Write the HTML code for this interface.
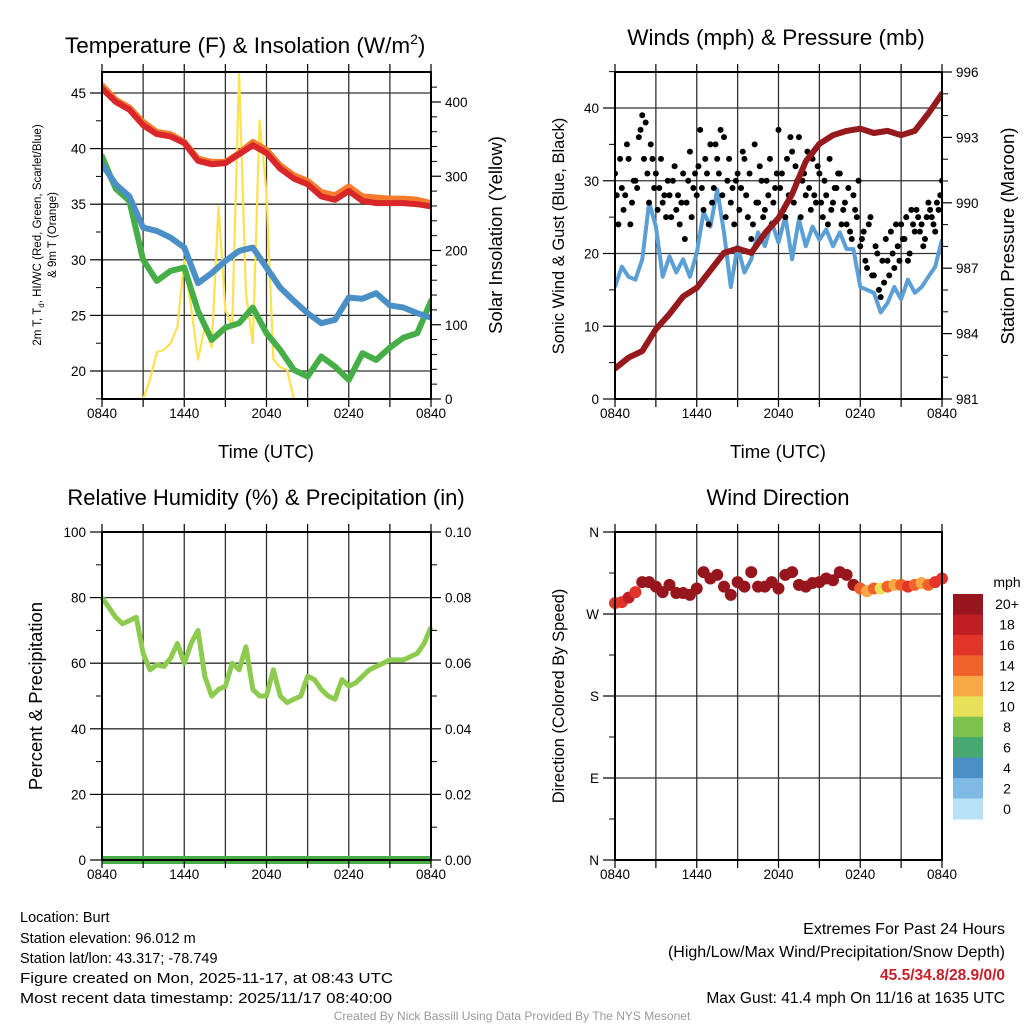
<!DOCTYPE html>
<html><head><meta charset="utf-8"><style>
body{margin:0;background:#fff;}
svg{display:block;font-family:"Liberation Sans",Arial,sans-serif;}
</style></head><body>
<svg id="root" width="1024" height="1024" viewBox="0 0 1024 1024" xmlns="http://www.w3.org/2000/svg">
<rect width="1024" height="1024" fill="#fff"/>
<g id="layer"></g>
<g font-size="14.5" fill="#000">
<text x="20" y="922">Location: Burt</text>
<text x="20" y="943">Station elevation: 96.012 m</text>
<text x="20" y="963">Station lat/lon: 43.317; -78.749</text>
<text x="20" y="983" textLength="373" lengthAdjust="spacingAndGlyphs">Figure created on Mon, 2025-11-17, at 08:43 UTC</text>
<text x="20" y="1003" textLength="372" lengthAdjust="spacingAndGlyphs">Most recent data timestamp: 2025/11/17 08:40:00</text>
<text x="1005" y="934" font-size="16" text-anchor="end">Extremes For Past 24 Hours</text>
<text x="1005" y="957" font-size="16" text-anchor="end">(High/Low/Max Wind/Precipitation/Snow Depth)</text>
<text x="1005" y="980" font-size="15.5" font-weight="bold" fill="#c8202a" text-anchor="end">45.5/34.8/28.9/0/0</text>
<text x="1005" y="1003" font-size="15.5" text-anchor="end">Max Gust: 41.4 mph On 11/16 at 1635 UTC</text>
<text x="512" y="1020" font-size="12" fill="#999" text-anchor="middle">Created By Nick Bassill Using Data Provided By The NYS Mesonet</text>
</g>
</svg>
<script>
// ---------- data ----------
const xTickLabels = ["0840","1440","2040","0240","0840"];
const tempTicks = [20,25,30,35,40,45];
const solarTicks = [0,100,200,300,400];
const windTicks = [0,10,20,30,40];
const presTicks = [981,984,987,990,993,996];
const rhTicks = [0,20,40,60,80,100];
const precipTicks = ["0.00","0.02","0.04","0.06","0.08","0.10"];
const dirTicks = ["N","E","S","W","N"];
const speedBins = ["0","2","4","6","8","10","12","14","16","18","20+"];

// hourly temps (F), hour 0..24
const tempRed = [45.4,44.2,43.5,42.1,41.3,41.1,40.5,38.9,38.6,38.7,39.5,40.3,39.6,38.2,37.3,36.8,35.7,35.4,36.2,35.3,35.1,35.1,35.1,35.0,34.8];
const temp9m = [45.7,44.4,43.7,42.4,41.5,41.3,40.6,39.1,38.8,38.8,39.6,40.6,39.9,38.5,37.6,37.1,36.1,35.8,36.6,35.7,35.6,35.5,35.5,35.4,35.1];
const dewBlue = [38.6,36.8,35.7,32.9,32.6,32.0,31.1,27.9,28.8,29.9,30.8,31.1,29.3,27.5,26.3,25.2,24.3,24.6,26.6,26.5,27.0,25.9,25.7,25.2,24.8];
const hiwcGreen = [39.3,36.4,35.3,30.0,28.1,29.0,29.3,25.4,22.8,23.9,24.3,25.7,23.4,21.9,20.1,19.5,21.3,20.4,19.2,21.6,21.0,22.1,23.0,23.4,26.3];
// half-hourly insolation W/m2
const solar = [0,0,0,0,0,0,0,26,63,66,75,97,187,124,53,97,70,259,120,97,440,143,75,375,277,53,43,39,0,0,0,0,0,0,0,0,0,0,0,0,0,0,0,0,0,0,0,0,0];
// half-hourly wind (mph)
const windSpeed = [15.4,18.2,16.8,16.4,19.2,27,23.7,16.8,19.6,17.4,19.2,16.8,20.1,25.7,23.7,28.8,22.9,15.4,21,17.4,19.2,22.9,21,24.3,21.5,25.1,19.2,24.7,21,23.7,21.9,23.3,21,22.9,20.6,20.6,15.4,15,14.6,11.9,13.2,15.4,13.7,16.4,14.6,15.4,16.8,18.2,21.9];
// gusts every 15 min and offset series
const gustA = [31,24,29,28,33,27,30,36,39,38,27,33,31,29,27,25,28,30,26,24,31,27,34,29,28,37,26,31,35,29,33,37,36,30,27,24,31,29,33,25,22,35,27,30,26,28,24,29,37,31,25,28,34,32,36,30,28,29,33,27,31,25,28,33,27,29,31,26,24,23,28,25,21,23,18,25,17,20,14,16,19,23,18,21,24,22,19,26,23,25,24,22,27,25,23,26,30];
const gustB = [28,33,26,35,24,30,29,37,33,31,35,29,26,33,28,30,25,32,28,27,22,30,25,31,32,29,33,24,27,35,31,28,25,33,29,30,26,34,28,31,24,27,32,25,30,33,27,31,29,26,33,36,27,30,25,31,34,26,28,32,27,30,24,26,29,31,24,27,29,22,26,30,22,19,24,17,21,15,19,22,17,20,24,19,22,25,20,24,26,23,21,25,26,24,27,28];
// hourly pressure (mb)
const pressure = [982.4,982.9,983.2,984.2,984.9,985.7,986.1,986.9,987.7,987.9,987.7,988.6,989.3,990.4,991.9,992.7,993.1,993.3,993.4,993.2,993.3,993.1,993.3,994.1,995.0];
// half-hourly RH (%)
const rh = [80,77,74,72,73,74,63,58,59.5,59,61.5,66,60,66,70,56,50,52,53,60,58,65,52,50,50,58,50,48,49,50,56,55,52,50,49,55,53,54,56,58,59,60,61,61,61,62,63,66,71];
const precip = [0,0,0,0,0,0,0,0,0,0,0,0,0,0,0,0,0,0,0,0,0,0,0,0,0];
// half-hourly wind direction (deg) and speed (mph)
const windDir = [282,283,288,294,305,305,300,294,302,293,293,291,298,316,309,313,300,291,305,300,316,300,300,305,298,313,316,302,300,304,305,309,307,316,313,302,298,295,298,298,300,302,302,300,302,304,302,305,309];
const dirSpeed = [16,17,18,16,20,21,22,20,21,20,22,20,21,22,23,22,21,20,21,22,23,21,20,21,22,21,23,22,21,20,22,21,23,22,21,20,14,13,15,10,14,13,15,16,14,13,15,16,17];

const binColors = ["#b7e2f6","#7fbae5","#4a8fc6","#48a871","#7cc24c","#e6e159","#f7a743","#f1622a","#e1352a","#bf1e24","#97161d"];

// ---------- helpers ----------
const NS="http://www.w3.org/2000/svg";
const layer=document.getElementById('layer');
function mk(tag,attrs,parent){const e=document.createElementNS(NS,tag);for(const k in attrs)e.setAttribute(k,attrs[k]);(parent||layer).appendChild(e);return e;}
function txt(s,attrs,parent){const e=mk('text',attrs,parent);e.textContent=s;return e;}
function lin(d0,d1,r0,r1){return v=>r0+(v-d0)*(r1-r0)/(d1-d0);}
function path(xs,ys,xf,yf){return xs.map((x,i)=>(i?'L':'M')+xf(x).toFixed(1)+','+yf(ys[i]).toFixed(1)).join(' ');}
function hours(n,step){return Array.from({length:n},(_,i)=>i*step);}

function frame(g,x0,x1,y0,y1,vlines,hlines){
  vlines.forEach(x=>{const l=mk('line',{x1:x,x2:x,y1:y0,y2:y1,stroke:'#333','stroke-width':1.3},g);});
  hlines.forEach(y=>{mk('line',{x1:x0,x2:x1,y1:y,y2:y,stroke:'#333','stroke-width':1.3},g);});
}
function border(g,x0,x1,y0,y1){mk('rect',{x:x0,y:y0,width:x1-x0,height:y1-y0,fill:'none',stroke:'#000','stroke-width':2},g);}
function xAxis(g,x0,x1,y0,y1,name){
  const xs=lin(0,24,x0,x1);
  for(let h=0;h<=24;h+=3){mk('line',{x1:xs(h),x2:xs(h),y1:y1,y2:y1+8,stroke:'#000','stroke-width':1.2},g);mk('line',{x1:xs(h),x2:xs(h),y1:y0,y2:y0-8,stroke:'#000','stroke-width':1.2},g);}
  xTickLabels.forEach((s,i)=>{const t=txt(s,{x:xs(i*6),y:y1+19,'font-size':13.5,'text-anchor':'middle'},g);
  
  });
  return xs;
}
function yTicksLeft(g,x0,vals,yf,labels,name,minor){
  vals.forEach((v,i)=>{mk('line',{x1:x0-12,x2:x0,y1:yf(v),y2:yf(v),stroke:'#000','stroke-width':1.2},g);
  const t=txt(labels?labels[i]:String(v),{x:x0-16,y:yf(v)+5,'font-size':13.5,'text-anchor':'end'},g);
  
  });
  (minor||[]).forEach(v=>mk('line',{x1:x0-6,x2:x0,y1:yf(v),y2:yf(v),stroke:'#000','stroke-width':1},g));
}
function yTicksRight(g,x1,vals,yf,labels,name,minor){
  vals.forEach((v,i)=>{mk('line',{x1:x1,x2:x1+10,y1:yf(v),y2:yf(v),stroke:'#000','stroke-width':1.2},g);
  const t=txt(labels?labels[i]:String(v),{x:x1+14,y:yf(v)+5,'font-size':13.5},g);
  
  });
  (minor||[]).forEach(v=>mk('line',{x1:x1,x2:x1+6,y1:yf(v),y2:yf(v),stroke:'#000','stroke-width':1},g));
}
function vgrid(x0,x1){const xs=lin(0,24,x0,x1);return hours(9,3).map(xs);}

// ---------- Panel 1 ----------
(function(){
const g=mk('g',{});


const X0=102,X1=431,Y0=72,Y1=399;
const yT=lin(20,45,371,93), yS=lin(0,400,399,102);
frame(g,X0,X1,Y0,Y1,vgrid(X0,X1),tempTicks.map(yT));
const xs=lin(0,24,X0,X1);
const clip=mk('clipPath',{id:'c1'},g);mk('rect',{x:X0,y:Y0,width:X1-X0,height:Y1-Y0},clip);
const pg=mk('g',{'clip-path':'url(#c1)'},g);
const sol=mk('path',{d:path(hours(49,0.5),solar,xs,yS),fill:'none',stroke:'#fde24f','stroke-width':2.2,'stroke-linejoin':'round'},pg);

const specs=[[hiwcGreen,'#45ae46','hiwc-line'],[dewBlue,'#4a8fc6','dewpoint-line'],[temp9m,'#f57c2c','temp-9m-line'],[tempRed,'#d8262a','temp-2m-line']];
specs.forEach(s=>{const p=mk('path',{d:path(hours(25,1),s[0],xs,yT),fill:'none',stroke:s[1],'stroke-width':6,'stroke-linejoin':'round','stroke-linecap':'round'},pg);
});
border(g,X0,X1,Y0,Y1);
xAxis(g,X0,X1,Y0,Y1,'temp');
yTicksLeft(g,X0,tempTicks,yT,null,'temp-y',[17.5,22.5,27.5,32.5,37.5,42.5]);
const minS=[];for(let v=20;v<440;v+=20)if(v%100)minS.push(v);
yTicksRight(g,X1,solarTicks,yS,null,'solar-y',minS);
const t=txt('Temperature (F) & Insolation (W/m',{x:65,y:53,'font-size':22.5},g);
const sup=mk('tspan',{'font-size':14,dy:-9},t);sup.textContent='2';
const cl=mk('tspan',{dy:9},t);cl.textContent=')';

const yl=mk('text',{transform:'translate(41,235) rotate(-90)','font-size':11.5,'text-anchor':'middle'},g);
yl.innerHTML='2m T, T<tspan font-size="8" dy="3">d</tspan><tspan dy="-3">, HI/WC (Red, Green, Scarlet/Blue)</tspan>';

const yl2=txt('& 9m T (Orange)',{transform:'translate(56,235) rotate(-90)','font-size':11.5,'text-anchor':'middle'},g);

const yr=txt('Solar Insolation (Yellow)',{transform:'translate(502,235) rotate(-90)','font-size':18.5,'text-anchor':'middle'},g);

const xt=txt('Time (UTC)',{x:266,y:458,'font-size':18.5,'text-anchor':'middle'},g);

})();

// ---------- Panel 2 ----------
(function(){
const g=mk('g',{});


const X0=615,X1=942,Y0=72,Y1=399;
const yW=lin(0,40,399,108), yP=lin(981,996,399,72);
frame(g,X0,X1,Y0,Y1,vgrid(X0,X1),windTicks.slice(1).map(yW));
const xs=lin(0,24,X0,X1);
const clip=mk('clipPath',{id:'c2'},g);mk('rect',{x:X0,y:Y0,width:X1-X0,height:Y1-Y0},clip);
const pg=mk('g',{'clip-path':'url(#c2)'},g);
const w=mk('path',{d:path(hours(49,0.5),windSpeed,xs,yW),fill:'none',stroke:'#5a9fd6','stroke-width':4,'stroke-linejoin':'round'},pg);

gustA.forEach((v,i)=>{const c=mk('circle',{cx:xs(i*0.25),cy:yW(v),r:3,fill:'#000'},pg);
});
gustB.forEach((v,i)=>{const c=mk('circle',{cx:xs(i*0.25+0.125),cy:yW(v),r:3,fill:'#000'},pg);
});
const p=mk('path',{d:path(hours(25,1),pressure,xs,yP),fill:'none',stroke:'#96191c','stroke-width':6,'stroke-linejoin':'round','stroke-linecap':'round'},pg);

border(g,X0,X1,Y0,Y1);
xAxis(g,X0,X1,Y0,Y1,'wind');
yTicksLeft(g,X0,windTicks,yW,null,'wind-y',[5,15,25,35,45]);
yTicksRight(g,X1,presTicks,yP,null,'pressure-y',[982,983,985,986,988,989,991,992,994,995]);
const t=txt('Winds (mph) & Pressure (mb)',{x:776,y:45,'font-size':22.5,'text-anchor':'middle'},g);

const yl=txt('Sonic Wind & Gust (Blue, Black)',{transform:'translate(564,236) rotate(-90)','font-size':16.5,'text-anchor':'middle'},g);

const yr=txt('Station Pressure (Maroon)',{transform:'translate(1014,236) rotate(-90)','font-size':18.5,'text-anchor':'middle'},g);

const xt=txt('Time (UTC)',{x:778,y:458,'font-size':18.5,'text-anchor':'middle'},g);

})();

// ---------- Panel 3 ----------
(function(){
const g=mk('g',{});


const X0=102,X1=431,Y0=532,Y1=860;
const yR=lin(0,100,860,532), yPr=lin(0,0.1,860,532);
frame(g,X0,X1,Y0,Y1,vgrid(X0,X1),[20,40,60,80].map(yR));
const xs=lin(0,24,X0,X1);
const r=mk('path',{d:path(hours(49,0.5),rh,xs,yR),fill:'none',stroke:'#8dcb4f','stroke-width':5,'stroke-linejoin':'round'},g);

const pp=mk('path',{d:path(hours(25,1),precip,xs,yPr),fill:'none',stroke:'#45ae46','stroke-width':8},g);

border(g,X0,X1,Y0,Y1);
xAxis(g,X0,X1,Y0,Y1,'rh');
yTicksLeft(g,X0,rhTicks,yR,null,'rh-y',[10,30,50,70,90]);
yTicksRight(g,X1,[0,0.02,0.04,0.06,0.08,0.1],yPr,precipTicks,'precip-y',[0.01,0.03,0.05,0.07,0.09]);
const t=txt('Relative Humidity (%) & Precipitation (in)',{x:266,y:505,'font-size':22,'text-anchor':'middle'},g);

const yl=txt('Percent & Precipitation',{transform:'translate(42,696) rotate(-90)','font-size':18.5,'text-anchor':'middle'},g);

})();

// ---------- Panel 4 ----------
(function(){
const g=mk('g',{});


const X0=615,X1=942,Y0=532,Y1=860;
const yD=lin(0,360,860,532);
frame(g,X0,X1,Y0,Y1,vgrid(X0,X1),[90,180,270].map(yD));
const xs=lin(0,24,X0,X1);
windDir.forEach((d,i)=>{const b=Math.min(10,Math.floor(dirSpeed[i]/2));
const c=mk('circle',{cx:xs(i*0.5),cy:yD(d),r:6,fill:binColors[b]},g);
});
border(g,X0,X1,Y0,Y1);
xAxis(g,X0,X1,Y0,Y1,'dir');
yTicksLeft(g,X0,[0,90,180,270,360],yD,dirTicks,'dir-y',[45,135,225,315]);
const t=txt('Wind Direction',{x:778,y:505,'font-size':22,'text-anchor':'middle'},g);

const yl=txt('Direction (Colored By Speed)',{transform:'translate(564,696) rotate(-90)','font-size':16.5,'text-anchor':'middle'},g);

// colorbar
const cb=mk('g',{},g);

const top=594,h=(819-594)/11;
speedBins.forEach((s,i)=>{const k=10-i;
const rc=mk('rect',{x:953,y:top+i*h,width:30,height:h+0.5,fill:binColors[k]},cb);

const tl=txt(speedBins[k],{x:1007,y:top+i*h+h/2+5,'font-size':14,'text-anchor':'middle'},cb);
});
const u=txt('mph',{x:1007,y:587,'font-size':14,'text-anchor':'middle'},cb);

})();
</script>
</body></html>
